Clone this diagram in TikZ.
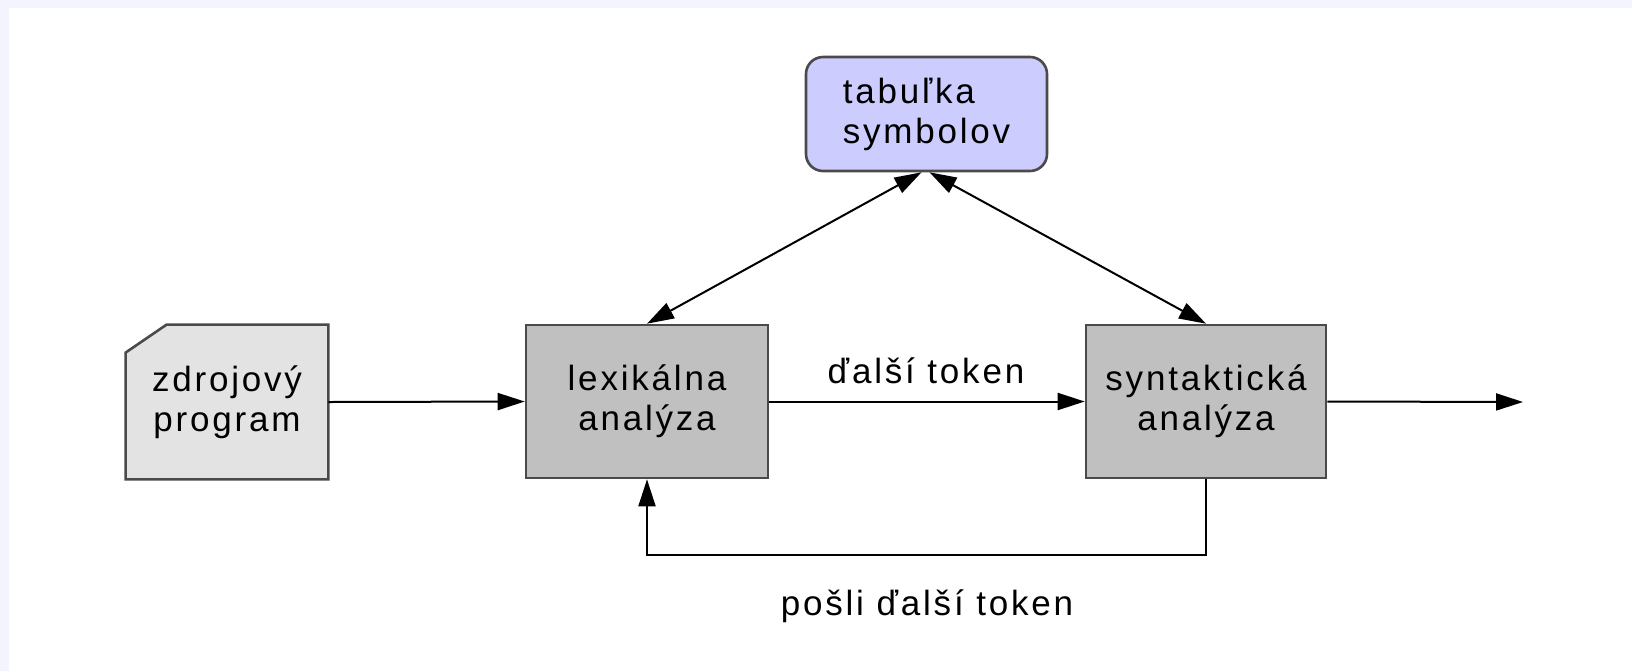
\documentclass[tikz,border=0pt]{standalone}
\usepackage{fontspec}
\setmainfont{Liberation Sans}[LetterSpace=8]
\usetikzlibrary{arrows.meta,calc,backgrounds}
\definecolor{framebg}{HTML}{F4F4FE}
\definecolor{docfill}{HTML}{E3E3E3}
\definecolor{stagefill}{HTML}{C0C0C0}
\definecolor{tablefill}{HTML}{CCCCFF}
\definecolor{edgegray}{HTML}{4A4A4A}
\begin{document}
\begin{tikzpicture}[x=0.5pt,y=-0.5pt,
  lbl/.style={font=\fontsize{17.5pt}{20pt}\selectfont, text=black},
  stagebox/.style={lbl, draw=edgegray, line width=1.3pt, fill=stagefill,
    align=center, minimum width=121pt, minimum height=76.5pt, inner sep=0pt},
  tip/.tip={Triangle[length=13.5pt,width=8.5pt]},
  arr/.style={line width=1pt, -tip},
  darr/.style={line width=1pt, tip-tip},
]
\useasboundingbox (0,0) rectangle (1632,671);
\begin{pgfonlayer}{background}
  \fill[framebg] (0,0) rectangle (1632,671);
  \fill[white] (9,8) rectangle (1632,671);
\end{pgfonlayer}

% processing stages
\node[stagebox] (lex) at (647,401.5) {lexikálna\\analýza};
\node[stagebox, minimum width=120pt] (syn) at (1206,401.5) {syntaktická\\analýza};
\node[stagebox, fill=tablefill, rounded corners=8.5pt, minimum width=120.5pt,
      minimum height=57pt, align=left] (tab) at (926.5,114) {tabuľka\\symbolov};

% source document with a cut corner
\node[lbl, align=center, minimum width=101pt, minimum height=77pt, inner sep=0pt]
  (src) at (227,402) {zdrojový\\program};
\begin{pgfonlayer}{background}
  \filldraw[fill=docfill, draw=edgegray, line width=1.3pt]
    ($(src.north west)+(41,0)$) -- (src.north east) -- (src.south east)
    -- (src.south west) -- ($(src.north west)+(0,28)$) -- cycle;
\end{pgfonlayer}

% connectors
\draw[arr] (src.east) -- (lex.west);
\draw[arr] (lex.east) -- (syn.west);
\coordinate (out) at (1523,402);
\draw[arr] (syn.east) -- (out);
\coordinate (tabfootL) at ($(tab.south)+(-5,0)$);
\coordinate (tabfootR) at ($(tab.south)+(3,0)$);
\draw[darr] (lex.north) -- (tabfootL);
\draw[darr] (tabfootR) -- (syn.north);
\coordinate (back) at (647,555);
\draw[arr] (syn.south) |- (back) -- (lex.south);

% edge labels
\node[lbl, anchor=base] (next) at (926,383) {ďalší token};
\node[lbl, anchor=base] (req) at (927,615) {pošli ďalší token};
\end{tikzpicture}
\end{document}
